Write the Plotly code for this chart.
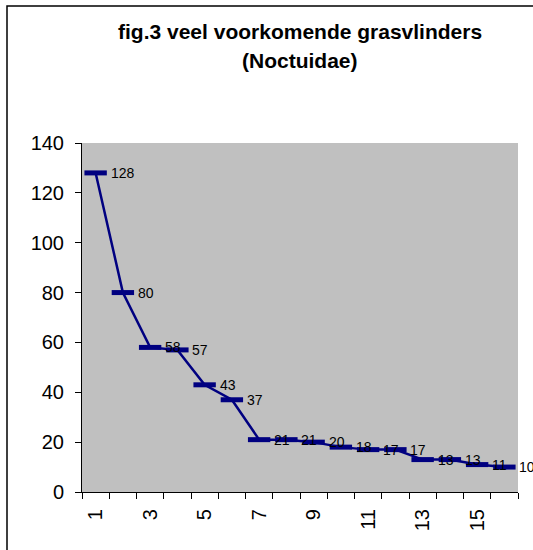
import plotly.graph_objects as go

# species rank and number of counted moths
rank = list(range(1, 17))
counts = [128, 80, 58, 57, 43, 37, 21, 21, 20, 18, 17, 17, 13, 13, 11, 10]
tick_vals = [1, 3, 5, 7, 9, 11, 13, 15]
tick_text = ["1", "3", "5", "7", "9", "11", "13", "15"]

W, H = 533, 550
left, right, top, bottom = 82, 518, 143, 492
pw, ph = right - left, bottom - top
FONT = "Arial, Liberation Sans"


def px_x(p):
    return (p - left) / pw


def px_y(p):
    return (bottom - p) / ph


fig = go.Figure()
fig.add_trace(go.Scatter(
    x=rank, y=counts, mode="lines+markers",
    line=dict(color="#000080", width=2.5),
    marker=dict(symbol="line-ew", size=16, line=dict(color="#000080", width=5)),
    cliponaxis=False, hoverinfo="skip",
))

# data labels to the right of each point
for r, c in zip(rank, counts):
    fig.add_annotation(x=r, y=c, text=str(c), showarrow=False,
                       xanchor="left", yanchor="middle", xshift=13,
                       font=dict(family=FONT, size=14, color="black"))

fig.add_annotation(x=px_x(300), y=px_y(32), xref="paper", yref="paper",
                   text="<b>fig.3 veel voorkomende grasvlinders</b>", showarrow=False,
                   xanchor="center", yanchor="middle",
                   font=dict(family=FONT, size=21, color="black"))
fig.add_annotation(x=px_x(300), y=px_y(60), xref="paper", yref="paper",
                   text="<b>(Noctuidae)</b>", showarrow=False,
                   xanchor="center", yanchor="middle",
                   font=dict(family=FONT, size=21, color="black"))

# outer chart border (runs off the picture at right and bottom)
fig.add_shape(type="rect", xref="paper", yref="paper",
              x0=px_x(7), x1=px_x(545), y0=px_y(565), y1=px_y(6),
              line=dict(color="black", width=1.5), layer="below")

fig.update_layout(
    width=W, height=H,
    margin=dict(l=left, r=W - right, t=top, b=H - bottom, pad=0),
    paper_bgcolor="white", plot_bgcolor="#C0C0C0",
    showlegend=False,
    font=dict(family=FONT, size=20, color="black"),
)
fig.update_xaxes(
    range=[0.5, 16.5], tickmode="array", tickvals=tick_vals, ticktext=tick_text,
    tickangle=-90, ticks="", showgrid=False, zeroline=False,
    showline=True, linecolor="black", linewidth=1,
    minor=dict(tick0=0.5, dtick=1, ticks="outside", ticklen=6, tickcolor="black", showgrid=False),
    tickfont=dict(size=20), ticklabelstandoff=8,
)
fig.update_yaxes(
    range=[0, 140], dtick=20, ticks="outside", ticklen=6, tickcolor="black",
    showgrid=False, zeroline=False, showline=True, linecolor="black", linewidth=1,
    tickfont=dict(size=20), ticklabelstandoff=7,
)

# drop the default body margin so the figure sits in the window corner
fig.write_html("out.html", config={"displayModeBar": False},
               post_script="document.body.style.margin='0';")
